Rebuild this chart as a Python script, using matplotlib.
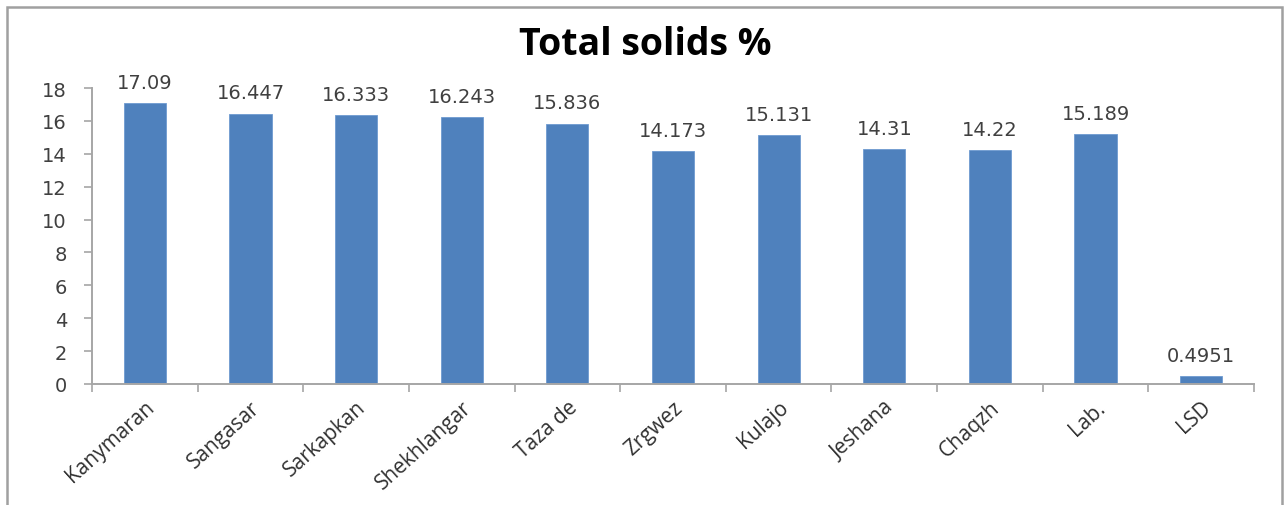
import matplotlib
matplotlib.use("Agg")
import matplotlib.pyplot as plt
import matplotlib.patches as patches
import numpy as np

# sample names and total solids (%)
names = ["Kanymaran", "Sangasar", "Sarkapkan", "Shekhlangar", "Taza de",
         "Zrgwez", "Kulajo", "Jeshana", "Chaqzh", "Lab.", "LSD"]
solids = [17.09, 16.447, 16.333, 16.243, 15.836,
          14.173, 15.131, 14.31, 14.22, 15.189, 0.4951]
value_labels = ["17.09", "16.447", "16.333", "16.243", "15.836",
                "14.173", "15.131", "14.31", "14.22", "15.189", "0.4951"]
yticks = [0, 2, 4, 6, 8, 10, 12, 14, 16, 18]

bar_color = "#4F81BD"
axis_color = "#A6A6A6"
text_color = "#404040"

fig = plt.figure(figsize=(12.84, 5.06), dpi=100)
fig.patch.set_facecolor("white")

# outer chart frame (runs off the bottom edge)
frame = patches.Rectangle((7 / 1284, -0.05), 1275 / 1284, 1.05 - 8 / 506,
                          transform=fig.transFigure, fill=False,
                          edgecolor="#A0A0A0", linewidth=1.8)
fig.patches.append(frame)

ax = fig.add_axes([92 / 1284, 1 - 385 / 506, (1254 - 92) / 1284, (385 - 89) / 506])

x = np.arange(len(names))
ax.bar(x, solids, width=0.4, color=bar_color, edgecolor="#6E9BD0", linewidth=0.6, zorder=2)

for xi, v, lab in zip(x, solids, value_labels):
    ax.annotate(lab, (xi, v), xytext=(0, 8), textcoords="offset points",
                ha="center", va="bottom", fontsize=14, color=text_color,
                family="DejaVu Sans")

ax.set_xlim(-0.5, len(names) - 0.5)
ax.set_ylim(0, 18)
ax.set_yticks(yticks)
ax.set_yticklabels([str(t) for t in yticks], fontsize=14, color=text_color,
                   family="DejaVu Sans")

# category ticks sit between the bars
ax.set_xticks(np.arange(-0.5, len(names), 1.0))
ax.set_xticklabels([])
ax.set_xticks(x, minor=True)
ax.set_xticklabels(names, minor=True, rotation=42, ha="right",
                   rotation_mode="anchor", fontsize=15, color="#303030",
                   family="Open Sans")
ax.tick_params(axis="x", which="minor", length=0, pad=9)
ax.tick_params(axis="x", which="major", length=6, width=1.2, color=axis_color, direction="out")
ax.tick_params(axis="y", length=6, width=1.2, color=axis_color, direction="out", pad=12)

for side in ["top", "right"]:
    ax.spines[side].set_visible(False)
for side in ["left", "bottom"]:
    ax.spines[side].set_color(axis_color)
    ax.spines[side].set_linewidth(1.4)

fig.text(645 / 1284, 1 - 45 / 506, "Total solids %", ha="center", va="center",
         fontsize=27, fontweight="bold", family="Open Sans", color="black")

fig.savefig("out.png", dpi=100, facecolor="white")
